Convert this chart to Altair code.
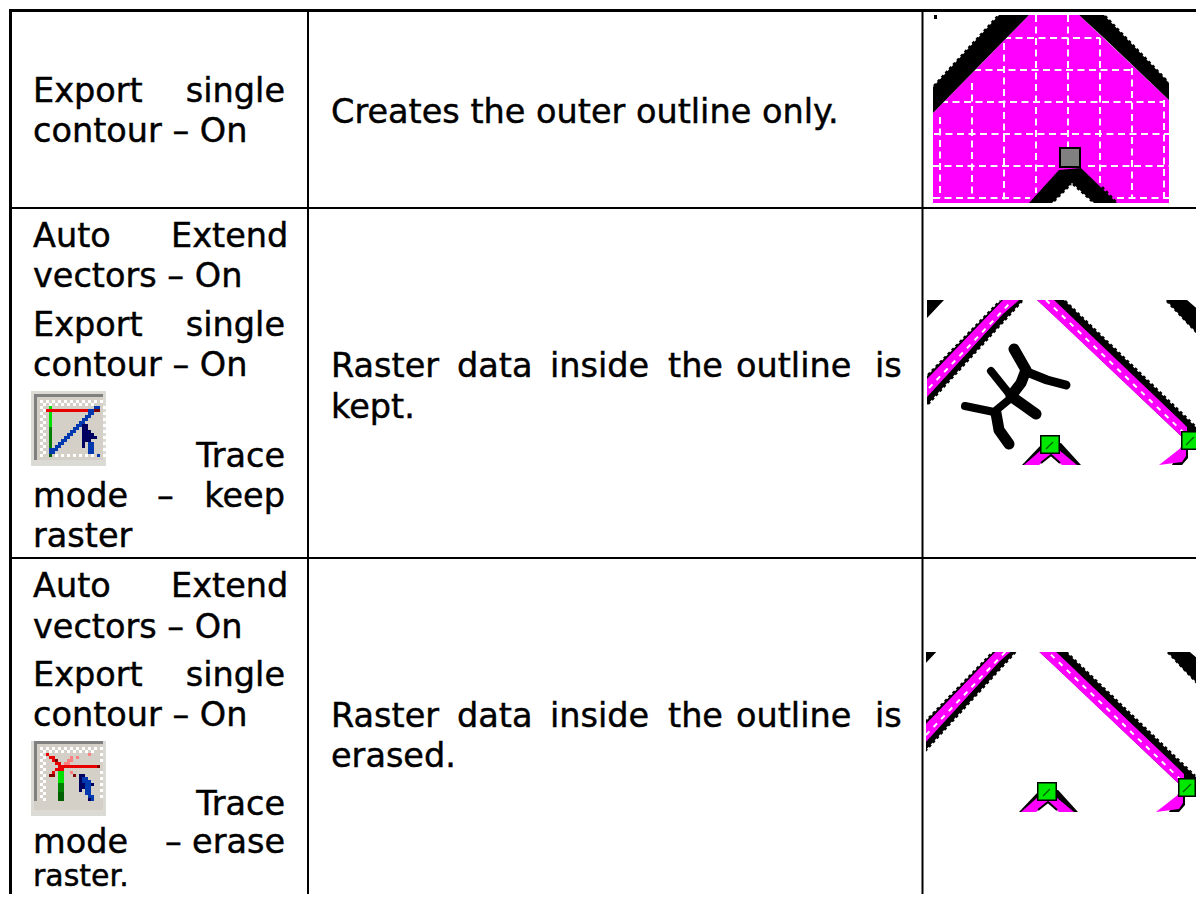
import altair as alt
import pandas as pd

FONT = "DejaVu Sans"
FS = 33.5
xs = alt.Scale(domain=[8, 1196], range=[0, 1188], nice=False, zero=False)
ys = alt.Scale(domain=[8, 894], range=[0, 886], nice=False, zero=False)
X = lambda f: alt.X(f, type="quantitative", scale=xs, axis=None)
Y = lambda f: alt.Y(f, type="quantitative", scale=ys, axis=None)

# ---- table text -------------------------------------------------------
left_words = [
    (33, 102, "Export"), (33, 142, "contour – On"),
    (33, 247, "Auto"), (171, 247, "Extend"), (33, 287, "vectors – On"),
    (33, 336, "Export"), (33, 376, "contour – On"),
    (33, 507, "mode"), (157, 507, "–"), (33, 547, "raster"),
    (33, 597, "Auto"), (171, 597, "Extend"), (33, 638, "vectors – On"),
    (33, 686, "Export"), (33, 726, "contour – On"),
    (33, 853, "mode"), (165, 853, "–"),
    (331, 123, "Creates the outer outline only."),
    (331, 377, "Raster"), (457, 377, "data"), (550, 377, "inside"),
    (668, 377, "the"), (736, 377, "outline"), (875, 377, "is"),
    (331, 418, "kept."),
    (331, 727, "Raster"), (457, 727, "data"), (550, 727, "inside"),
    (668, 727, "the"), (736, 727, "outline"), (875, 727, "is"),
    (331, 767, "erased."),
]
right_words = [
    (285, 102, "single"), (285, 336, "single"), (285, 467, "Trace"),
    (285, 507, "keep"), (285, 686, "single"), (285, 815, "Trace"),
    (285, 853, "erase"),
]
last_word = [(33, 886, "raster.")]

# ---- table rules: x, x2, y, y2, width ----------------------------------
rules = [
    (9, 1204, 10.5, 10.5, 3), (10.5, 10.5, 9, 902, 3),
    (308, 308, 10, 902, 2), (922.5, 922.5, 10, 902, 2),
    (10, 1204, 208, 208, 2), (10, 1204, 558, 558, 2),
]

layers = []


def area(color, pts, dx=0, dy=0):
    df = pd.DataFrame(pts, columns=["x", "t", "b"])
    df["x"] += dx
    df["t"] += dy
    df["b"] += dy
    layers.append(alt.Chart(df).mark_area(color=color, opacity=1).encode(
        x=X("x"), y=Y("t"), y2=alt.Y2("b")))


def line(color, pts, width, dash=None, dx=0, dy=0, cap="butt"):
    df = pd.DataFrame(pts, columns=["x", "y"])
    df["x"] += dx
    df["y"] += dy
    df["o"] = range(len(df))
    kw = {"strokeDash": dash} if dash else {}
    layers.append(alt.Chart(df).mark_line(
        color=color, strokeWidth=width, strokeCap=cap, strokeJoin="round", **kw
    ).encode(x=X("x"), y=Y("y"), order="o:Q"))


def rects(df):
    layers.append(alt.Chart(df).mark_rect(strokeWidth=0).encode(
        x=X("x"), x2="x2:Q", y=Y("y"), y2="y2:Q",
        color=alt.Color("c:N", scale=None)))


TEETH = [3, 2.7]
K = "#000000"
W = "#ffffff"

# ---- picture 1 ---------------------------------------------------------
MAG = "#ff00ff"
area(MAG, [(933, 113, 203), (1029, 15, 203), (1079, 15, 203), (1169, 100, 203)])
grid_v = [(940, 117, 198), (972, 83, 198), (1004, 43, 203), (1036, 15, 193),
          (1068, 15, 147), (1100, 38, 185), (1132, 68, 198), (1164, 100, 198)]
grid_h = [(38, 1004, 1100), (70, 974, 1131), (102, 941, 1164), (134, 934, 1169),
          (166, 933, 1055), (166, 1088, 1169), (198, 933, 1030), (198, 1117, 1169)]
for gx, a, b in grid_v:
    line(W, [(gx, a), (gx, b)], 2, [7, 4.5])
for gy, a, b in grid_h:
    line(W, [(a, gy), (b, gy)], 2, [7, 4.5])
area(K, [(933, 87, 113), (999, 15, 45.6), (1029, 15, 15)])
area(K, [(1079, 15, 15), (1104, 15, 38), (1169, 83, 100)])
line(K, [(934, 86), (998, 16)], 2.5, TEETH)
line(K, [(1105, 16), (1168, 82)], 2.5, TEETH)
area(K, [(1029, 203, 203), (1059, 170, 203), (1081, 168, 203), (1117, 203, 203)])
line(K, [(1102, 187), (1116, 202)], 2.5, TEETH)
area(W, [(1052, 203, 203), (1072, 183, 203), (1094, 203, 203)])
line(K, [(1054, 201), (1071, 184)], 2.5, TEETH)
line(K, [(1073, 184), (1092, 201)], 2.5, TEETH)
rects(pd.DataFrame([
    dict(x=934, x2=937, y=15, y2=19, c=K),
    dict(x=1059, x2=1081, y=147, y2=168, c=K),
    dict(x=1061, x2=1079, y=149, y2=166, c="#808080"),
]))


# ---- pictures 2 and 3 share their geometry ------------------------------
def diagonal_picture(dx, dy, creature):
    area(K, [(927, 376, 405), (1001, 300, 324), (1023, 300, 300)], dx, dy)
    line(K, [(928, 375), (1000, 301)], 2.5, TEETH, dx, dy)
    line(K, [(928, 404), (1022, 301)], 2.5, TEETH, dx, dy)
    area(MAG, [(927, 379, 397), (1003, 300, 314), (1019, 300, 300)], dx, dy)
    line(W, [(929, 388), (1011, 302)], 2, [5, 6], dx, dy)
    area(K, [(927, 300, 318), (944, 300, 300)], dx, dy)
    area(K, [(1037, 300, 300), (1064, 300, 325), (1182, 414, 437), (1199, 430, 437)], dx, dy)
    line(K, [(1065, 301), (1198, 429)], 2.5, TEETH, dx, dy)
    area(MAG, [(1037, 300, 300), (1054, 300, 316), (1182, 422, 437), (1187, 427, 437)], dx, dy)
    line(W, [(1046, 300), (1184, 433)], 2, [5, 6], dx, dy)
    area(K, [(1166, 300, 300), (1187, 300, 323), (1207, 317, 343)], dx, dy)
    line(K, [(1167, 301), (1206, 342)], 2.5, TEETH, dx, dy)
    area(K, [(1022, 465, 465), (1041, 445, 465), (1061, 443, 465), (1081, 465, 465)], dx, dy)
    area(MAG, [(1024, 465, 465), (1041, 450, 465), (1059, 450, 465), (1077, 465, 465)], dx, dy)
    area(W, [(1039, 465, 465), (1051, 456, 465), (1062, 465, 465)], dx, dy)
    line(K, [(1041, 463), (1051, 455), (1060, 463)], 2, None, dx, dy)
    area(K, [(1156, 465, 465), (1182, 445, 465), (1188, 445, 458), (1172, 465, 465)], dx, dy)
    area(MAG, [(1159, 465, 465), (1182, 447, 462), (1186, 447, 456)], dx, dy)
    rects(pd.DataFrame([
        dict(x=1040 + dx, x2=1060 + dx, y=435 + dy, y2=454 + dy, c=K),
        dict(x=1041.5 + dx, x2=1058.5 + dx, y=436.5 + dy, y2=452.5 + dy, c="#00e800"),
        dict(x=1181 + dx, x2=1199 + dx, y=431 + dy, y2=450 + dy, c=K),
        dict(x=1182.5 + dx, x2=1197.5 + dx, y=432.5 + dy, y2=448.5 + dy, c="#00e800"),
    ]))
    line("#006000", [(1046, 449), (1053, 442)], 1.2, None, dx, dy)
    line("#006000", [(1186, 445), (1194, 437)], 1.2, None, dx, dy)
    if creature:
        for path, w in [
            ([(1014, 349), (1026, 370), (1021, 383), (1011, 396)], 11),
            ([(1027, 372), (1047, 380), (1066, 385)], 9),
            ([(991, 371), (1011, 396)], 8),
            ([(1012, 397), (1036, 414)], 11),
            ([(1011, 398), (994, 412), (965, 406)], 8),
            ([(996, 413), (999, 430), (1009, 444)], 11),
        ]:
            line(K, path, w, None, 0, 0, "round")


diagonal_picture(0, 0, True)
diagonal_picture(-3, 347, False)
rects(pd.DataFrame([
    dict(x=925, x2=1204, y=640, y2=652, c=W),
    dict(x=923.5, x2=926, y=640, y2=812, c=W),
]))

# ---- toolbar icons -----------------------------------------------------
PALETTE = {"g": "#808080", "w": "#ffffff", "r": "#e80000", "R": "#800000",
           "G": "#00e000", "D": "#006000", "b": "#0038b0", "n": "#000060",
           "p": "#ff8080", "m": "#008000"}
icon_keep = [
    "",
    " ggggggggggggggggggggggg",
    " g",
    " g.w.w.w.w.w.w.w.w.w.w.w",
    " g..w.w.w.w.w.w.w.w.w..",
    " g.w..G..............bb.w",
    " g..wrrrrrrrrrrrrrrbbRR",
    " g.w..G............bb...w",
    " g..w.G...........bb",
    " g.w..G..........bb.....w",
    " g..w.G.........bb",
    " g.w..G........bbnn.....w",
    " g..w.m.......bb.nn",
    " g.w..m......bb..nnn....w",
    " g..w.m.....bb...nnnn",
    " g.w..m....bb....nnnnn..w",
    " g..w.m...bb.....nnn",
    " g.w..m..bb......n.bb...w",
    " g..w.m.bb.......n.bb",
    " g.w..bbb..........bb...w",
    " g..w.bb...........bb",
    " g.w..D.w.w.w.w.w.w.w.b.w",
    " g",
]
icon_erase = [
    " ggggggggggggggggggggggg",
    " g",
    " g.w.w.w.w.w.w.w.w.w.w.w",
    " g..w.w.w.w.w.w.w.w.w..",
    " g.w.r.............p...w",
    " g..w.rr.....p.p",
    " g.w...rR...pp.........w",
    " g..w...rr.pp",
    " g.w.....rrrrrrrrrrrrrR",
    " g..w...rrr",
    " g.w...r.GG..p.........w",
    " g..w.RR.GG...R.nn",
    " g.w.....GG.....nbb....w",
    " g..w....GG.....nbbb",
    " g.w.....mm.....nnbbn..w",
    " g..w....mm.....nnbb",
    " g.w.....mm.....n.bb...w",
    " g..w....DD.......bb",
    " g.w.....DD........bb..w",
    " g..w....DD........nb",
]
ICON_SIZE = 25


def icon(rows, x0, y0, outer):
    rects(pd.DataFrame([
        dict(x=x0, x2=x0 + ICON_SIZE * 3, y=y0, y2=y0 + ICON_SIZE * 3, c=outer),
        dict(x=x0 + 3, x2=x0 + 72, y=y0 + 3, y2=y0 + 69, c="#d4d0c8"),
    ]))
    cells = []
    for r, row in enumerate(rows):
        for c, ch in enumerate(row):
            if ch in PALETTE:
                cells.append(dict(x=x0 + 3 * c, x2=x0 + 3 * c + 3,
                                  y=y0 + 3 * r, y2=y0 + 3 * r + 3, c=PALETTE[ch]))
    rects(pd.DataFrame(cells))


icon(icon_keep, 31, 391, "#dcdad4")
icon(icon_erase, 31, 741, "#dcdad4")

# ---- rules and text on top ----------------------------------------------
rule_df = pd.DataFrame(rules, columns=["x", "x2", "y", "y2", "w"])
layers.append(alt.Chart(rule_df).mark_rule(color=K).encode(
    x=X("x"), x2="x2:Q", y=Y("y"), y2="y2:Q",
    strokeWidth=alt.StrokeWidth("w:Q", scale=None)))
for words, al, size in ((left_words, "left", FS), (right_words, "right", FS), (last_word, "left", 30)):
    df = pd.DataFrame(words, columns=["x", "y", "t"])
    layers.append(alt.Chart(df).mark_text(
        align=al, baseline="alphabetic", font=FONT, fontSize=size, color=K,
        stroke=K, strokeWidth=0.45,
    ).encode(x=X("x"), y=Y("y"), text="t:N"))

chart = alt.layer(*layers).properties(
    width=1188, height=886, padding=0, autosize=alt.AutoSizeParams(type="none"),
    background="#ffffff",
).configure_view(stroke=None)
chart.save("out.html", embed_options={"renderer": "svg", "actions": False})
